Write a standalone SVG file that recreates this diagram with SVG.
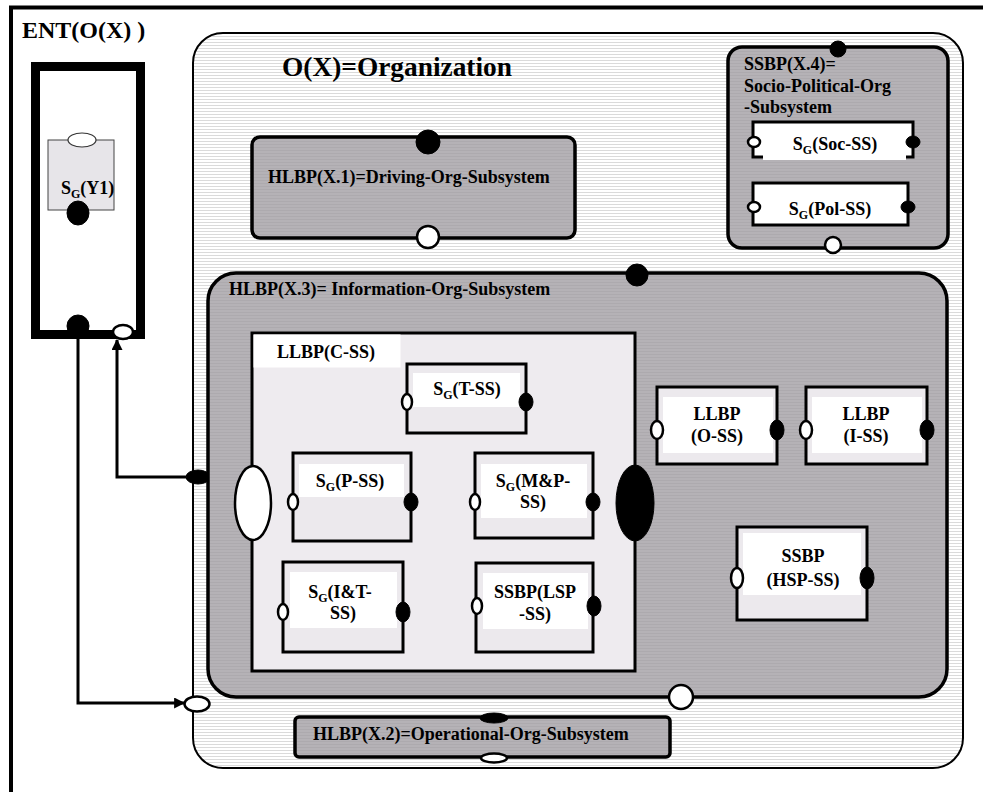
<svg xmlns="http://www.w3.org/2000/svg" width="983" height="792" viewBox="0 0 983 792">
<defs>
<pattern id="stripes" width="4" height="3" patternUnits="userSpaceOnUse"><rect width="4" height="3" fill="#ffffff"/><rect width="4" height="1" fill="#dadada"/></pattern>
<pattern id="gstripes" width="4" height="3" patternUnits="userSpaceOnUse"><rect width="4" height="3" fill="#b5b2b6"/><rect width="4" height="1" fill="#adaaae"/></pattern>
<marker id="arrow" viewBox="0 0 10 10" refX="9" refY="5" markerWidth="11" markerHeight="11" markerUnits="userSpaceOnUse" orient="auto"><path d="M0,0 L10,5 L0,10 z" fill="#000"/></marker>
</defs>
<style>
text{font-family:"Liberation Serif","Times New Roman",serif;font-weight:bold;font-size:18px;fill:#000}
.big{font-size:24px}
.title{font-size:27px}
.mid{text-anchor:middle}
.sub{font-size:12px}
.gray{fill:url(#gstripes);stroke:#000;stroke-width:3.5}
.mod{fill:#ecE9ed;stroke:#000;stroke-width:3}
.inner{fill:#ffffff}
.pw{fill:#ffffff;stroke:#000;stroke-width:2.5}
.pb{fill:#000;stroke:#000;stroke-width:1}
.conn{fill:none;stroke:#000;stroke-width:3}
</style>
<rect width="983" height="792" fill="#ffffff"/>
<g id="ent">
<rect x="11" y="7.5" width="1000" height="800" fill="#ffffff" stroke="#000" stroke-width="4"/>
<text x="22" y="38" class="big">ENT(O(X) )</text>
</g>
<g id="y1-container">
<rect x="35.5" y="66.5" width="105" height="268" fill="none" stroke="#000" stroke-width="9"/>
<ellipse cx="78" cy="326" rx="11" ry="11" class="pb"/>
<ellipse cx="123" cy="332" rx="10" ry="7" class="pw"/>
</g>
<g id="sg-y1">
<rect x="48" y="140" width="66" height="70" fill="#e7e5e9" stroke="#444" stroke-width="1"/>
<ellipse cx="82" cy="140" rx="14" ry="7" fill="#fff" stroke="#333" stroke-width="1.2"/>
<text x="61" y="194">S<tspan class="sub" dy="4">G</tspan><tspan dy="-4">(Y1)</tspan></text>
<ellipse cx="78" cy="213" rx="11" ry="12" class="pb"/>
</g>
<g id="organization">
<rect x="193" y="33" width="770" height="735" rx="30" fill="url(#stripes)" stroke="#000" stroke-width="2"/>
<text x="282" y="76" class="title" textLength="230" lengthAdjust="spacingAndGlyphs">O(X)=Organization</text>
<ellipse cx="198" cy="477" rx="12" ry="7" class="pb"/>
<ellipse cx="197" cy="704" rx="12.5" ry="7.5" class="pw"/>
</g>
<g id="hlbp-x1">
<rect x="252" y="137" width="323" height="101" rx="8" class="gray"/>
<circle cx="428" cy="142" r="12" class="pb"/>
<circle cx="428" cy="237" r="11" class="pw" stroke-width="3"/>
<text x="268" y="183">HLBP(X.1)=Driving-Org-Subsystem</text>
</g>
<g id="ssbp-x4">
<rect x="728" y="47" width="220" height="201" rx="14" class="gray"/>
<circle cx="838" cy="49" r="8" class="pb"/>
<circle cx="833" cy="245" r="8" class="pw" stroke-width="3"/>
<text x="744" y="70">SSBP(X.4)=</text>
<text x="744" y="92">Socio-Political-Org</text>
<text x="744" y="113">-Subsystem</text>
</g>
<g id="sg-soc">
<rect x="753" y="122" width="160" height="35" fill="#fff" stroke="#000" stroke-width="3"/>
<rect x="763" y="125" width="143" height="35" class="inner"/>
<ellipse cx="754" cy="142" rx="6" ry="5" class="pw"/>
<ellipse cx="913" cy="142" rx="7" ry="6" class="pb"/>
<text x="835" y="150" class="mid">S<tspan class="sub" dy="4">G</tspan><tspan dy="-4">(Soc-SS)</tspan></text>
</g>
<g id="sg-pol">
<rect x="753" y="183" width="155" height="42" fill="#fff" stroke="#000" stroke-width="3"/>
<ellipse cx="754" cy="207" rx="6" ry="5" class="pw"/>
<ellipse cx="908" cy="207" rx="7" ry="6" class="pb"/>
<text x="830" y="215" class="mid">S<tspan class="sub" dy="4">G</tspan><tspan dy="-4">(Pol-SS)</tspan></text>
</g>
<g id="hlbp-x3">
<rect x="208" y="273" width="739" height="424" rx="28" class="gray"/>
<circle cx="637" cy="275" r="11" class="pb"/>
<circle cx="681" cy="697" r="12" class="pw" stroke-width="3"/>
<text x="229" y="295">HLBP(X.3)= Information-Org-Subsystem</text>
</g>
<g id="llbp-c">
<rect x="252" y="333" width="383" height="338" fill="#eeebef" stroke="#000" stroke-width="3"/>
<rect x="253.5" y="334.5" width="147" height="33" class="inner"/>
<text x="277" y="358">LLBP(C-SS)</text>
<ellipse cx="253" cy="503" rx="18" ry="37" class="pw" stroke-width="3"/>
<ellipse cx="635" cy="503" rx="19" ry="38" class="pb"/>
</g>
<g id="sg-t">
<rect x="407" y="364" width="119" height="69" class="mod"/>
<rect x="413" y="373" width="107" height="34" class="inner"/>
<ellipse cx="407" cy="402" rx="5" ry="8" class="pw"/>
<ellipse cx="526" cy="402" rx="7" ry="9" class="pb"/>
<text x="467" y="395" class="mid">S<tspan class="sub" dy="4">G</tspan><tspan dy="-4">(T-SS)</tspan></text>
</g>
<g id="sg-p">
<rect x="293" y="453" width="118" height="88" class="mod"/>
<rect x="299" y="464" width="105" height="33" class="inner"/>
<ellipse cx="293" cy="502" rx="5" ry="8" class="pw"/>
<ellipse cx="411" cy="502" rx="7" ry="9" class="pb"/>
<text x="350" y="487" class="mid">S<tspan class="sub" dy="4">G</tspan><tspan dy="-4">(P-SS)</tspan></text>
</g>
<g id="sg-mp">
<rect x="475" y="453" width="118" height="85" class="mod"/>
<rect x="481" y="464" width="106" height="54" class="inner"/>
<ellipse cx="475" cy="502" rx="5" ry="8" class="pw"/>
<ellipse cx="593" cy="502" rx="7" ry="9" class="pb"/>
<text x="533" y="487" class="mid">S<tspan class="sub" dy="4">G</tspan><tspan dy="-4">(M&amp;P-</tspan></text>
<text x="533" y="508" class="mid">SS)</text>
</g>
<g id="sg-it">
<rect x="283" y="562" width="120" height="90" class="mod"/>
<rect x="290" y="572" width="107" height="56" class="inner"/>
<ellipse cx="283" cy="612" rx="5" ry="8" class="pw"/>
<ellipse cx="403" cy="612" rx="7" ry="10" class="pb"/>
<text x="340" y="598" class="mid">S<tspan class="sub" dy="4">G</tspan><tspan dy="-4">(I&amp;T-</tspan></text>
<text x="343" y="619" class="mid">SS)</text>
</g>
<g id="ssbp-lsp">
<rect x="476" y="563" width="117" height="89" class="mod"/>
<rect x="483" y="573" width="105" height="56" class="inner"/>
<ellipse cx="477" cy="606" rx="5" ry="8" class="pw"/>
<ellipse cx="594" cy="606" rx="7" ry="10" class="pb"/>
<text x="535" y="598" class="mid">SSBP(LSP</text>
<text x="535" y="620" class="mid">-SS)</text>
</g>
<g id="llbp-o">
<rect x="657" y="387" width="120" height="77" class="mod"/>
<rect x="663" y="397" width="110" height="56" class="inner"/>
<ellipse cx="657" cy="430" rx="6" ry="9" class="pw"/>
<ellipse cx="777" cy="430" rx="7" ry="10" class="pb"/>
<text x="717" y="420" class="mid">LLBP</text>
<text x="717" y="442" class="mid">(O-SS)</text>
</g>
<g id="llbp-i">
<rect x="806" y="387" width="121" height="77" class="mod"/>
<rect x="812" y="397" width="110" height="56" class="inner"/>
<ellipse cx="806" cy="430" rx="6" ry="9" class="pw"/>
<ellipse cx="927" cy="430" rx="7" ry="10" class="pb"/>
<text x="866" y="420" class="mid">LLBP</text>
<text x="866" y="442" class="mid">(I-SS)</text>
</g>
<g id="ssbp-hsp">
<rect x="737" y="527" width="130" height="93" class="mod"/>
<rect x="743" y="533" width="118" height="62" class="inner"/>
<ellipse cx="737" cy="578" rx="6" ry="10" class="pw"/>
<ellipse cx="867" cy="578" rx="7" ry="11" class="pb"/>
<text x="803" y="562" class="mid">SSBP</text>
<text x="803" y="586" class="mid">(HSP-SS)</text>
</g>
<g id="hlbp-x2">
<rect x="295" y="717" width="375" height="40" rx="4" class="gray"/>
<ellipse cx="494" cy="718" rx="14" ry="5" class="pb"/>
<ellipse cx="494" cy="758" rx="13" ry="4.5" class="pw"/>
<text x="313" y="740">HLBP(X.2)=Operational-Org-Subsystem</text>
</g>
<g id="connectors">
<path d="M78,337 V703 H184" class="conn" marker-end="url(#arrow)"/>
<path d="M186,477 H117 V340" class="conn" marker-end="url(#arrow)"/>
</g>
</svg>
